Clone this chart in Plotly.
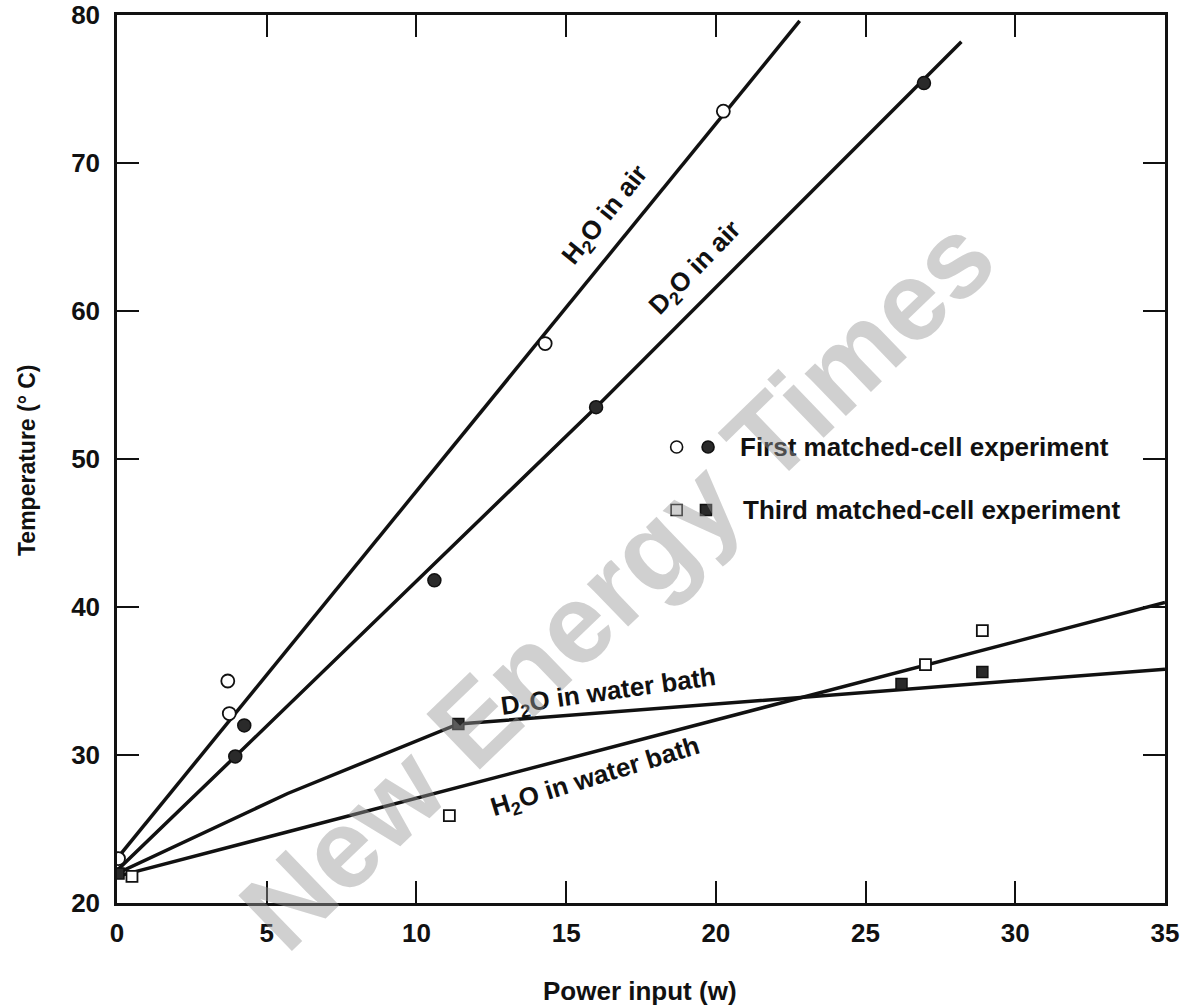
import plotly.graph_objects as go

# values
first_h2o_x = [0.05, 3.7, 3.75, 14.3, 20.25]
first_h2o_y = [23.0, 35.0, 32.8, 57.8, 73.5]
first_d2o_x = [4.25, 3.95, 10.6, 16.0, 26.95]
first_d2o_y = [32.0, 29.9, 41.8, 53.5, 75.4]
third_h2o_x = [0.5, 11.1, 27.0, 28.9]
third_h2o_y = [21.8, 25.9, 36.1, 38.4]
third_d2o_x = [0.05, 11.4, 26.2, 28.9]
third_d2o_y = [22.0, 32.1, 34.8, 35.6]

# fitted curves
h2o_air_x = [0.0, 22.8]
h2o_air_y = [23.0, 79.6]
d2o_air_x = [0.0, 4.0, 16.0, 28.2]
d2o_air_y = [22.2, 30.0, 53.5, 78.2]
h2o_bath_x = [0.2, 35.0]
h2o_bath_y = [21.9, 40.3]
d2o_bath_x = [0.0, 5.7, 11.4, 35.0]
d2o_bath_y = [22.0, 27.4, 32.1, 35.8]

x_ticks = [0, 5, 10, 15, 20, 25, 30, 35]
y_ticks = [20, 30, 40, 50, 60, 70, 80]

FONT = "Liberation Sans"
INK = "#111111"
L, R, T, B = 117, 1165, 15, 903  # plot area in pixels

fig = go.Figure()

for xs, ys in [(h2o_air_x, h2o_air_y), (d2o_air_x, d2o_air_y),
               (h2o_bath_x, h2o_bath_y), (d2o_bath_x, d2o_bath_y)]:
    fig.add_trace(go.Scatter(x=xs, y=ys, mode="lines",
                             line=dict(color=INK, width=3.5)))

open_circle = dict(symbol="circle", size=13, color="white", line=dict(color=INK, width=1.8))
full_circle = dict(symbol="circle", size=13, color="#2a2a2a", line=dict(color=INK, width=1.5))
open_square = dict(symbol="square", size=11, color="white", line=dict(color=INK, width=1.8))
full_square = dict(symbol="square", size=11, color="#2a2a2a", line=dict(color=INK, width=1.5))

fig.add_trace(go.Scatter(x=third_d2o_x, y=third_d2o_y, mode="markers", marker=full_square))
fig.add_trace(go.Scatter(x=third_h2o_x, y=third_h2o_y, mode="markers", marker=open_square))
fig.add_trace(go.Scatter(x=first_d2o_x, y=first_d2o_y, mode="markers", marker=full_circle))
fig.add_trace(go.Scatter(x=first_h2o_x, y=first_h2o_y, mode="markers", marker=open_circle))

# legend keys on a hidden overlay axis (0..1)
fig.add_trace(go.Scatter(x=[0.534, 0.564], y=[0.5135, 0.5135], mode="markers",
                         marker=dict(symbol="circle", size=12, color=["white", "#2a2a2a"],
                                     line=dict(color=INK, width=1.6)),
                         xaxis="x2", yaxis="y2"))
fig.add_trace(go.Scatter(x=[0.534, 0.562], y=[0.4426, 0.4426], mode="markers",
                         marker=dict(symbol="square", size=11, color=["white", "#2a2a2a"],
                                     line=dict(color=INK, width=1.6)),
                         xaxis="x2", yaxis="y2"))

def bold(size):
    return dict(family=FONT, size=size, color=INK, weight="bold")

# annotations positioned in pixels, converted to paper coordinates below
notes = [
    (738, 447, "First matched-cell experiment", 0, 26, "left"),
    (741, 510, "Third matched-cell experiment", 0, 26, "left"),
    (605, 215, "H<sub>2</sub>O in air", -51, 26, "center"),
    (695, 268, "D<sub>2</sub>O in air", -46, 26, "center"),
    (608, 692, "D<sub>2</sub>O in water bath", -8, 26, "center"),
    (595, 777, "H<sub>2</sub>O in water bath", -17, 26, "center"),
    (640, 991, "Power input (w)", 0, 26, "center"),
    (27, 460, "Temperature (° C)", -90, 23, "center"),
]
annotations = []
for px, py, text, ang, size, anchor in notes:
    annotations.append(dict(x=(px - L) / (R - L), y=(B - py) / (B - T),
                            xref="paper", yref="paper", xanchor=anchor, yanchor="middle",
                            text=text, textangle=ang, showarrow=False, font=bold(size)))

annotations.append(dict(x=(617 - L) / (R - L), y=(B - 583) / (B - T),
                        xref="paper", yref="paper", text="New Energy Times",
                        textangle=-44, showarrow=False,
                        font=dict(family=FONT, size=112, weight="bold",
                                  color="rgba(150,150,150,0.45)")))

axis_common = dict(showline=True, linecolor=INK, linewidth=2.5, mirror="ticks",
                   ticks="inside", ticklen=22, tickwidth=2, tickcolor=INK,
                   showgrid=False, zeroline=False, automargin=False,
                   tickfont=bold(26))

fig.update_layout(
    width=1180, height=1006,
    margin=dict(l=L, r=1180 - R, t=T, b=1006 - B, autoexpand=False),
    plot_bgcolor="white", paper_bgcolor="white",
    showlegend=False,
    xaxis=dict(range=[0, 35], tickvals=x_ticks, ticklabelstandoff=5, **axis_common),
    yaxis=dict(range=[20, 80], tickvals=y_ticks, ticklabelstandoff=9, **axis_common),
    xaxis2=dict(range=[0, 1], overlaying="x", visible=False),
    yaxis2=dict(range=[0, 1], overlaying="y", visible=False),
    annotations=annotations,
)

# drop the browser's default page margin so the figure sits at the corner
fig.write_html("out.html", config={"displayModeBar": False},
               post_script="document.body.style.margin='0';document.body.style.overflow='hidden';")
